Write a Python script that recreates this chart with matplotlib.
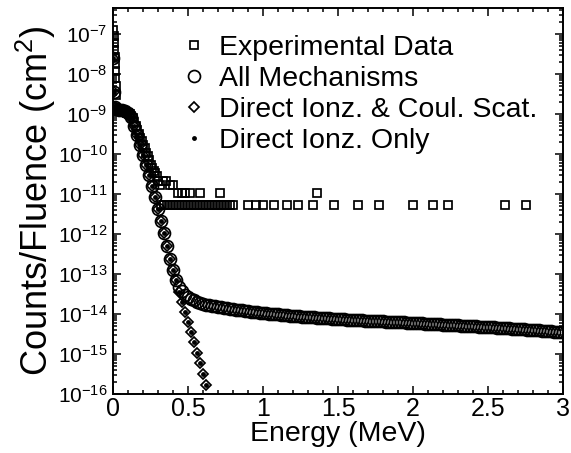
import matplotlib
matplotlib.use("Agg")
import matplotlib.pyplot as plt
from matplotlib.ticker import FixedLocator, FixedFormatter, LogLocator, NullFormatter, MultipleLocator

plt.rcParams['font.family'] = ['Liberation Sans', 'DejaVu Sans']
plt.rcParams['mathtext.fontset'] = 'custom'
plt.rcParams['mathtext.rm'] = 'Liberation Sans'
plt.rcParams['mathtext.it'] = 'Liberation Sans'

# ---------------- data ----------------
# Experimental data (counts / fluence)
exp_energy = [0.000, 0.003, 0.006, 0.008, 0.010, 0.012, 0.014, 0.016, 0.018, 0.020,
              0.030, 0.040, 0.050, 0.060, 0.070, 0.080, 0.090, 0.100, 0.110, 0.120,
              0.130, 0.140, 0.150, 0.160, 0.170, 0.180, 0.190, 0.200, 0.210, 0.220,
              0.230, 0.240, 0.250, 0.260, 0.270, 0.280, 0.290, 0.300, 0.310, 0.330,
              0.350, 0.380, 0.400]
exp_values = [1.25e-7, 9e-8, 6e-8, 4e-8, 2.7e-8, 1.8e-8, 1.2e-8, 8e-9, 5e-9, 3e-9,
              1.3e-9, 1.25e-9, 1.25e-9, 1.2e-9, 1.2e-9, 1.15e-9, 1.1e-9, 1.05e-9, 1.0e-9, 9e-10,
              8e-10, 6.5e-10, 5e-10, 4e-10, 3.2e-10, 2.6e-10, 2.1e-10, 1.7e-10, 1.4e-10, 1.1e-10,
              9e-11, 7e-11, 5.5e-11, 4.5e-11, 3.9e-11, 3.4e-11, 2.8e-11, 2.2e-11, 1.7e-11, 2.2e-11,
              2.2e-11, 1.7e-11, 1.7e-11]
exp_two_count_energy = [0.43, 0.46, 0.48, 0.51, 0.58, 0.71, 1.36]
exp_two_count_value = 1.08e-11
exp_one_count_energy = [0.32, 0.34, 0.36, 0.38, 0.40, 0.42, 0.44, 0.46, 0.48, 0.50,
                        0.52, 0.54, 0.56, 0.58, 0.60, 0.62, 0.64, 0.66, 0.68, 0.70,
                        0.72, 0.74, 0.76, 0.78, 0.80, 0.90, 0.95, 1.00, 1.07, 1.16,
                        1.23, 1.33, 1.47, 1.63, 1.77, 2.00, 2.13, 2.23, 2.61, 2.75]
exp_one_count_value = 5.4e-12

# All mechanisms (model)
all_energy = [0.000, 0.004, 0.010, 0.020, 0.040, 0.060, 0.080, 0.100, 0.120, 0.140,
              0.160, 0.180, 0.200, 0.220, 0.240, 0.260, 0.280, 0.300, 0.320, 0.340,
              0.360, 0.380, 0.400, 0.420, 0.440, 0.460, 0.480, 0.500, 0.520, 0.540,
              0.560, 0.580, 0.600, 0.62, 0.64, 0.66, 0.68, 0.70, 0.72, 0.74,
              0.76, 0.78, 0.80, 0.82, 0.84, 0.86, 0.88, 0.90, 0.92, 0.94,
              0.96, 0.98, 1.00, 1.02, 1.04, 1.06, 1.08, 1.10, 1.12, 1.14,
              1.16, 1.18, 1.20, 1.22, 1.24, 1.26, 1.28, 1.30, 1.32, 1.34,
              1.36, 1.38, 1.40, 1.42, 1.44, 1.46, 1.48, 1.50, 1.52, 1.54,
              1.56, 1.58, 1.60, 1.62, 1.64, 1.66, 1.68, 1.70, 1.72, 1.74,
              1.76, 1.78, 1.80, 1.82, 1.84, 1.86, 1.88, 1.90, 1.92, 1.94,
              1.96, 1.98, 2.00, 2.02, 2.04, 2.06, 2.08, 2.10, 2.12, 2.14,
              2.16, 2.18, 2.20, 2.22, 2.24, 2.26, 2.28, 2.30, 2.32, 2.34,
              2.36, 2.38, 2.40, 2.42, 2.44, 2.46, 2.48, 2.50, 2.52, 2.54,
              2.56, 2.58, 2.60, 2.62, 2.64, 2.66, 2.68, 2.70, 2.72, 2.74,
              2.76, 2.78, 2.80, 2.82, 2.84, 2.86, 2.88, 2.90, 2.92, 2.94,
              2.96, 2.98, 3.00]
all_values = [2.5e-8, 3.5e-9, 1.5e-9, 1.35e-9, 1.3e-9, 1.25e-9, 1.2e-9, 1.1e-9, 8.5e-10, 5.0e-10,
              3.0e-10, 1.7e-10, 9.5e-11, 5.5e-11, 3.0e-11, 1.6e-11, 8.5e-12, 4.3e-12, 2.1e-12, 1.05e-12,
              5.0e-13, 2.4e-13, 1.25e-13, 7.0e-14, 4.8e-14, 3.7e-14, 3.1e-14, 2.75e-14, 2.45e-14, 2.2e-14,
              2.05e-14, 1.9e-14, 1.78e-14, 1.72e-14, 1.67e-14, 1.62e-14, 1.57e-14, 1.53e-14, 1.49e-14, 1.45e-14,
              1.41e-14, 1.37e-14, 1.33e-14, 1.30e-14, 1.27e-14, 1.24e-14, 1.21e-14, 1.18e-14, 1.15e-14, 1.12e-14,
              1.10e-14, 1.08e-14, 1.05e-14, 1.04e-14, 1.02e-14, 1.01e-14, 9.9e-15, 9.8e-15, 9.6e-15, 9.5e-15,
              9.3e-15, 9.2e-15, 9.1e-15, 8.9e-15, 8.8e-15, 8.7e-15, 8.6e-15, 8.5e-15, 8.4e-15, 8.3e-15,
              8.2e-15, 8.1e-15, 8.0e-15, 7.9e-15, 7.8e-15, 7.7e-15, 7.6e-15, 7.5e-15, 7.4e-15, 7.4e-15,
              7.3e-15, 7.2e-15, 7.2e-15, 7.1e-15, 7.0e-15, 7.0e-15, 6.9e-15, 6.8e-15, 6.8e-15, 6.7e-15,
              6.7e-15, 6.6e-15, 6.6e-15, 6.5e-15, 6.4e-15, 6.4e-15, 6.3e-15, 6.3e-15, 6.2e-15, 6.2e-15,
              6.1e-15, 6.1e-15, 6.0e-15, 5.95e-15, 5.9e-15, 5.85e-15, 5.8e-15, 5.75e-15, 5.7e-15, 5.65e-15,
              5.6e-15, 5.55e-15, 5.5e-15, 5.45e-15, 5.4e-15, 5.35e-15, 5.3e-15, 5.25e-15, 5.2e-15, 5.15e-15,
              5.1e-15, 5.05e-15, 5.0e-15, 4.95e-15, 4.9e-15, 4.85e-15, 4.8e-15, 4.75e-15, 4.7e-15, 4.65e-15,
              4.6e-15, 4.55e-15, 4.5e-15, 4.45e-15, 4.4e-15, 4.35e-15, 4.3e-15, 4.25e-15, 4.2e-15, 4.15e-15,
              4.1e-15, 4.05e-15, 4.0e-15, 3.95e-15, 3.9e-15, 3.85e-15, 3.8e-15, 3.75e-15, 3.7e-15, 3.65e-15,
              3.6e-15, 3.57e-15, 3.55e-15]

# Direct ionization & Coulomb scattering (model)
dics_energy = [0.000, 0.004, 0.010, 0.020, 0.040, 0.060, 0.080, 0.100, 0.120, 0.140,
               0.160, 0.180, 0.200, 0.220, 0.240, 0.260, 0.280, 0.300, 0.320, 0.340,
               0.360, 0.380, 0.400, 0.420, 0.440, 0.460, 0.480, 0.500, 0.520, 0.540,
               0.560, 0.580, 0.600, 0.620]
dics_values = [2.5e-8, 3.5e-9, 1.5e-9, 1.35e-9, 1.3e-9, 1.25e-9, 1.2e-9, 1.1e-9, 8.5e-10, 5.0e-10,
               3.0e-10, 1.7e-10, 9.5e-11, 5.5e-11, 3.0e-11, 1.6e-11, 8.5e-12, 4.3e-12, 2.1e-12, 1.05e-12,
               5.0e-13, 2.4e-13, 1.25e-13, 7.0e-14, 3.5e-14, 2.0e-14, 1.12e-14, 6.3e-15, 3.5e-15, 2.0e-15,
               1.05e-15, 6.0e-16, 3.2e-16, 1.66e-16]

# Direct ionization only (model)
di_energy = list(dics_energy)
di_values = list(dics_values)

x_ticks = [0, 0.5, 1, 1.5, 2, 2.5, 3]
x_tick_labels = ["0", "0.5", "1", "1.5", "2", "2.5", "3"]
y_ticks = [1e-16, 1e-15, 1e-14, 1e-13, 1e-12, 1e-11, 1e-10, 1e-9, 1e-8, 1e-7]
y_tick_labels = [r"$10^{-16}$", r"$10^{-15}$", r"$10^{-14}$", r"$10^{-13}$", r"$10^{-12}$",
                 r"$10^{-11}$", r"$10^{-10}$", r"$10^{-9}$", r"$10^{-8}$", r"$10^{-7}$"]

# ---------------- plot ----------------
fig = plt.figure(figsize=(5.71, 4.53), dpi=100)
ax = fig.add_axes([0.198, 0.130, 0.788, 0.852])

mew = 1.25
sq, = ax.plot(exp_energy, exp_values, ls='none', marker='s', ms=5.2, mfc='none', mec='black', mew=mew,
              label='Experimental Data')
ax.plot(exp_two_count_energy, [exp_two_count_value] * len(exp_two_count_energy), ls='none', marker='s',
        ms=5.2, mfc='none', mec='black', mew=mew)
ax.plot(exp_one_count_energy, [exp_one_count_value] * len(exp_one_count_energy), ls='none', marker='s',
        ms=5.2, mfc='none', mec='black', mew=mew)
ci, = ax.plot(all_energy, all_values, ls='none', marker='o', ms=8.6, mfc='none', mec='black', mew=mew,
              label='All Mechanisms')
di, = ax.plot(dics_energy, dics_values, ls='none', marker='D', ms=5.4, mfc='none', mec='black', mew=mew,
              label='Direct Ionz. & Coul. Scat.')
do, = ax.plot(di_energy, di_values, ls='none', marker='o', ms=3.5, mfc='black', mec='black', mew=0,
              label='Direct Ionz. Only')

ax.set_yscale('log')
ax.set_xlim(0, 3)
ax.set_ylim(1e-16, 4.5e-7)

ax.xaxis.set_major_locator(FixedLocator(x_ticks))
ax.xaxis.set_major_formatter(FixedFormatter(x_tick_labels))
ax.xaxis.set_minor_locator(MultipleLocator(0.1))
ax.yaxis.set_major_locator(FixedLocator(y_ticks))
ax.yaxis.set_major_formatter(FixedFormatter(y_tick_labels))
ax.yaxis.set_minor_locator(LogLocator(base=10, subs=[2, 3, 4, 5, 6, 7, 8, 9], numticks=30))
ax.yaxis.set_minor_formatter(NullFormatter())

ax.tick_params(which='both', direction='in', top=True, right=True, width=1.1)
ax.tick_params(which='major', length=6)
ax.tick_params(which='minor', length=3)
ax.tick_params(axis='x', labelsize=18, pad=2)
ax.tick_params(axis='y', labelsize=15, pad=4)
for s in ax.spines.values():
    s.set_linewidth(1.4)

ax.set_xlabel('Energy (MeV)', fontsize=20.5, labelpad=0)
ax.set_ylabel('Counts/Fluence (cm$^2$)', fontsize=26, labelpad=0)

ax.legend(handles=[sq, ci, di, do], loc='upper left', bbox_to_anchor=(0.13, 0.96), frameon=False,
          fontsize=20.5, handlelength=0.8, handletextpad=0.45, labelspacing=0.17, borderaxespad=0,
          markerscale=1.0)

fig.savefig('out.png', dpi=100)
